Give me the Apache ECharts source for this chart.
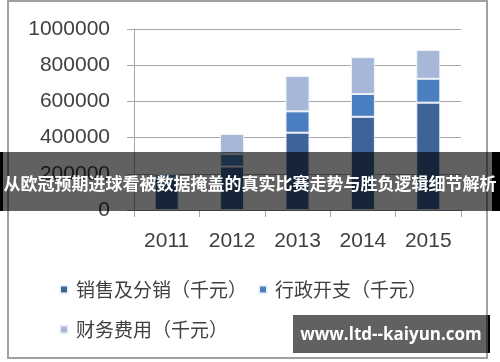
<!DOCTYPE html>
<html>
<head>
<meta charset="utf-8">
<script src="https://cdn.jsdelivr.net/npm/echarts@6/dist/echarts.min.js"></script>
<style>
html,body{margin:0;padding:0;background:#fff;}
#chart{width:500px;height:362px;}
</style>
</head>
<body>
<div id="chart"></div>
<script>
var categories = ['2011', '2012', '2013', '2014', '2015'];
var salesValues = [175000, 240000, 427000, 515000, 593000];
var adminValues = [25000, 69000, 118000, 126000, 132000];
var financeValues = [0, 111000, 195000, 203000, 159000];
var seriesNames = ['销售及分销（千元）', '行政开支（千元）', '财务费用（千元）'];
var yTicks = { min: 0, max: 1000000, interval: 200000 };
var titleText = '从欧冠预期进球看被数据掩盖的真实比赛走势与胜负逻辑细节解析';
var watermarkText = 'www.ltd--kaiyun.com';

var chart = echarts.init(document.getElementById('chart'), null, { renderer: 'canvas' });
var textColor = '#404040';
var lineColor = '#a6a6a6';
var colors = ['#3d6399', '#4a7ec0', '#a7b7d8'];

function barSeries(name, data, color) {
  return {
    name: name,
    type: 'bar',
    stack: 'total',
    data: data,
    barWidth: 24,
    itemStyle: { color: color, borderColor: '#eef3fa', borderWidth: 1 },
    emphasis: { disabled: true }
  };
}

function legendDef(names, top) {
  return {
    data: names,
    left: 59, top: top, padding: 0,
    icon: 'rect', itemWidth: 8, itemHeight: 8, itemGap: 11,
    textStyle: { color: textColor, fontSize: 19, fontFamily: 'Noto Sans CJK SC', padding: [0, 0, 0, 3] },
    selectedMode: false
  };
}

var option = {
  animation: false,
  color: colors,
  grid: { left: 134, right: 39, top: 29, bottom: 152, containLabel: false },
  xAxis: {
    type: 'category',
    data: categories,
    axisLine: { lineStyle: { color: lineColor, width: 1 } },
    axisTick: { show: true, length: 7, alignWithLabel: false, lineStyle: { color: lineColor } },
    axisLabel: { color: textColor, fontSize: 21, fontFamily: 'Liberation Sans, Arial, sans-serif', margin: 21 }
  },
  yAxis: {
    type: 'value',
    min: yTicks.min,
    max: yTicks.max,
    interval: yTicks.interval,
    axisLine: { show: true, lineStyle: { color: lineColor, width: 1 } },
    axisTick: { show: true, length: 7, lineStyle: { color: lineColor } },
    splitLine: { lineStyle: { color: lineColor, width: 1 } },
    axisLabel: { color: textColor, fontSize: 21, fontFamily: 'Liberation Sans, Arial, sans-serif', margin: 24,
      formatter: function (v) { return String(v); } }
  },
  legend: [
    legendDef([seriesNames[0], seriesNames[1]], 280),
    legendDef([seriesNames[2]], 320)
  ],
  series: [
    barSeries(seriesNames[0], salesValues, colors[0]),
    barSeries(seriesNames[1], adminValues, colors[1]),
    barSeries(seriesNames[2], financeValues, colors[2])
  ],
  graphic: [
    { type: 'rect', z: 50, silent: true, shape: { x: 8, y: 1, width: 479, height: 357 },
      style: { fill: 'none', stroke: '#a0a0a0', lineWidth: 2 } },
    { type: 'rect', z: 100, silent: true, shape: { x: 0, y: 152, width: 500, height: 59 },
      style: { fill: 'rgba(0,0,0,0.62)' } },
    { type: 'rect', z: 101, silent: true, shape: { x: 0, y: 152, width: 3, height: 59 },
      style: { fill: '#000' } },
    { type: 'rect', z: 101, silent: true, shape: { x: 492, y: 152, width: 8, height: 59 },
      style: { fill: '#000' } },
    { type: 'text', z: 102, silent: true, x: 250, y: 184,
      style: { text: titleText, fill: '#fff', font: 'bold 17px "Noto Sans CJK SC"', align: 'center', verticalAlign: 'middle' } },
    { type: 'rect', z: 100, silent: true, shape: { x: 293, y: 315, width: 195, height: 38 },
      style: { fill: 'rgba(0,0,0,0.62)' } },
    { type: 'rect', z: 101, silent: true, shape: { x: 488, y: 315, width: 2, height: 38 },
      style: { fill: '#000' } },
    { type: 'text', z: 102, silent: true, x: 391, y: 335,
      style: { text: watermarkText, fill: '#fff', font: 'bold 17px "Open Sans", "Noto Sans", sans-serif', align: 'center', verticalAlign: 'middle' } }
  ]
};
chart.setOption(option);
</script>
</body>
</html>
